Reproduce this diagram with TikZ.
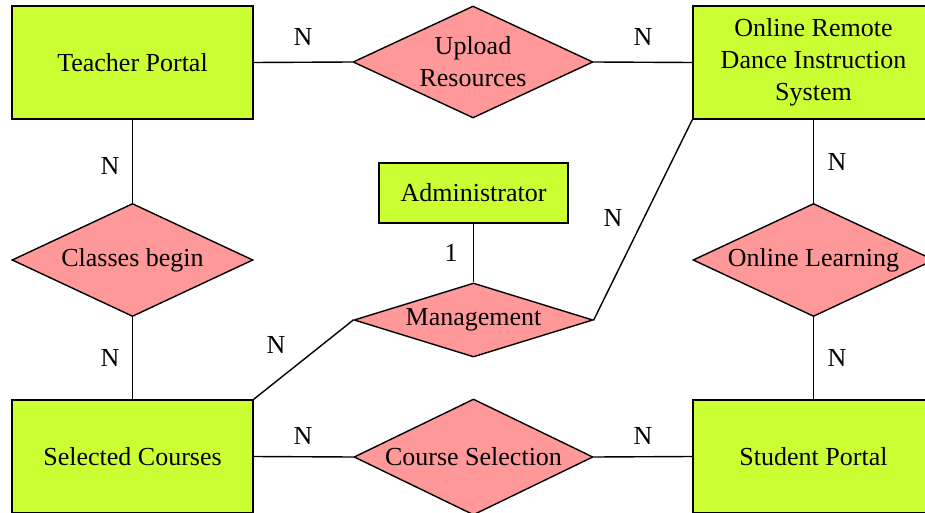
\documentclass[tikz,border=0pt]{standalone}
\usepackage{fontspec}
\setmainfont{Liberation Serif}
\usetikzlibrary{shapes.geometric}
\definecolor{entgreen}{RGB}{204,255,51}
\definecolor{relpink}{RGB}{255,153,153}
\begin{document}
\begin{tikzpicture}[x=1pt,y=-1pt,
  every node/.style={font=\fontsize{26}{32}\selectfont},
  ent/.style={draw=black,line width=1.4pt,fill=entgreen,rectangle,inner sep=0pt,align=center},
  rel/.style={draw=black,line width=1.4pt,fill=relpink,diamond,inner xsep=-20pt,inner ysep=0pt,align=center},
  conn/.style={draw=black,line width=1.4pt},
  card/.style={inner sep=0pt}]
\clip (0,0) rectangle (925,513);
\fill[white] (0,0) rectangle (925,513);
% entities
\node[ent,minimum width=241pt,minimum height=113pt] (tp) at (132.5,62.5) {Teacher Portal};
\node[ent,minimum width=241pt,minimum height=113pt] (sys) at (813.5,62.5) {Online Remote\\Dance Instruction\\System};
\node[ent,minimum width=189pt,minimum height=60pt] (adm) at (473.5,193) {Administrator};
\node[ent,minimum width=241pt,minimum height=113pt] (sc) at (132.5,456.5) {Selected Courses};
\node[ent,minimum width=241pt,minimum height=113pt] (sp) at (813.5,456.5) {Student Portal};
% relationships
\node[rel,aspect=2.14,minimum width=240pt,minimum height=112pt] (ur) at (473,62) {Upload\\Resources};
\node[rel,aspect=3.23,minimum width=239pt,minimum height=74pt] (mg) at (473.5,320) {Management};
\node[rel,aspect=2.13,minimum width=241pt,minimum height=113pt] (cb) at (132.5,260) {Classes begin};
\node[rel,aspect=2.13,minimum width=241pt,minimum height=113pt] (ol) at (813.5,260) {Online Learning};
\node[rel,aspect=2.06,minimum width=239pt,minimum height=116pt] (cs) at (473.5,457) {Course Selection};
% connectors
\draw[conn] (tp.east) -- (ur.west);
\draw[conn] (ur.east) -- (sys.west);
\draw[conn] (tp.south) -- (cb.north);
\draw[conn] (cb.south) -- (sc.north);
\draw[conn] (sys.south) -- (ol.north);
\draw[conn] (ol.south) -- (sp.north);
\draw[conn] (sc.east) -- (cs.west);
\draw[conn] (cs.east) -- (sp.west);
\draw[conn] (adm.south) -- (mg.north);
\draw[conn] (mg.west) -- (sc.north east);
\draw[conn] (mg.east) -- (sys.south west);
% cardinalities
\node[card] (n1) at (303,37) {N};
\node[card] (n2) at (643,37) {N};
\node[card] (n3) at (110,166) {N};
\node[card] (n4) at (110,358) {N};
\node[card] (n5) at (837,162) {N};
\node[card] (n6) at (837,358) {N};
\node[card] (n7) at (303,436) {N};
\node[card] (n8) at (643,436) {N};
\node[card] (n9) at (451,253) {1};
\node[card] (n10) at (276,345) {N};
\node[card] (n11) at (613,218) {N};
\end{tikzpicture}
\end{document}
